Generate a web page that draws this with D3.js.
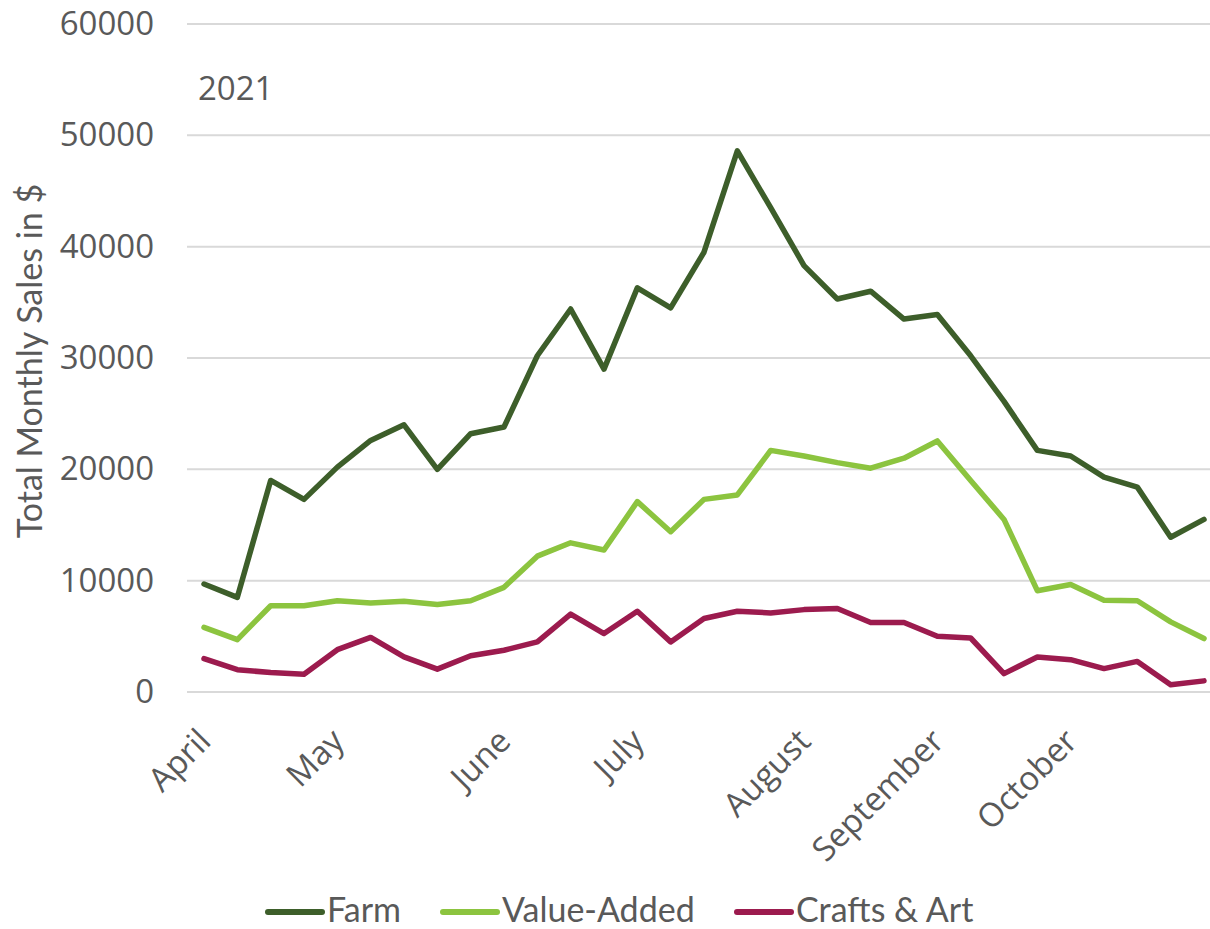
<!DOCTYPE html>
<html>
<head>
<meta charset="utf-8">
<script src="https://cdn.jsdelivr.net/npm/d3@7"></script>
<style>
  html, body { margin: 0; padding: 0; background: #ffffff; }
  svg { display: block; }
</style>
</head>
<body>
<svg id="chart" width="1210" height="929"></svg>
<script>
// Weekly categories; a month name marks the first week of each month
const weekLabels = [
  "April", "", "", "",
  "May", "", "", "", "",
  "June", "", "", "",
  "July", "", "", "", "",
  "August", "", "", "",
  "September", "", "", "",
  "October", "", "", "", ""
];

const farm = [9700, 8500, 19000, 17300, 20200, 22600, 24000, 20000, 23200, 23800,
  30200, 34400, 29000, 36300, 34500, 39500, 48600, 43500, 38300, 35300,
  36000, 33500, 33900, 30200, 26100, 21700, 21200, 19300, 18400, 13900, 15500];

const valueAdded = [5800, 4700, 7750, 7750, 8200, 8000, 8150, 7850, 8200, 9400,
  12200, 13400, 12750, 17100, 14400, 17300, 17700, 21700, 21200, 20600,
  20100, 21000, 22550, 19000, 15500, 9100, 9650, 8250, 8200, 6300, 4800];

const craftsArt = [3000, 2000, 1750, 1600, 3800, 4900, 3150, 2050, 3250, 3750,
  4500, 7000, 5250, 7250, 4500, 6600, 7250, 7100, 7400, 7500,
  6250, 6250, 5000, 4850, 1650, 3150, 2900, 2100, 2750, 650, 1000];

const seriesNames = ["Farm", "Value-Added", "Crafts & Art"];
const seriesColors = ["#3d5e2a", "#8cc43f", "#9c1b4e"];
const yTicks = [0, 10000, 20000, 30000, 40000, 50000, 60000];
const yearLabel = "2021";
const yTitle = "Total Monthly Sales in $";

const series = [farm, valueAdded, craftsArt].map((values, i) => ({
  name: seriesNames[i], color: seriesColors[i], values
}));

const svg = d3.select("#chart");
const textColor = "#595959";
const labelFont = "'Open Sans', sans-serif";
const titleFont = "Lato, 'Liberation Sans', sans-serif";

const x = d3.scalePoint()
  .domain(d3.range(weekLabels.length))
  .range([204, 1204]);

const y = d3.scaleLinear()
  .domain([0, 60000])
  .range([692, 24]);

// Horizontal gridlines
svg.append("g")
  .selectAll("line")
  .data(yTicks)
  .join("line")
  .attr("x1", 187)
  .attr("x2", 1222)
  .attr("y1", d => y(d))
  .attr("y2", d => y(d))
  .attr("stroke", "#d9d9d9")
  .attr("stroke-width", 2);

// Y axis labels
const yAxis = svg.append("g")
  .attr("transform", "translate(154,0)")
  .call(d3.axisLeft(y).tickValues(yTicks).tickSize(0).tickPadding(0).tickFormat(d3.format("d")));
yAxis.select(".domain").remove();
yAxis.selectAll("text")
  .attr("font-family", labelFont)
  .attr("font-size", 33)
  .attr("fill", textColor);

// X axis labels, rotated
const xAxis = svg.append("g")
  .attr("transform", "translate(0,735)")
  .call(d3.axisBottom(x).tickSize(0).tickFormat(i => weekLabels[i]));
xAxis.select(".domain").remove();
xAxis.selectAll("text")
  .attr("font-family", labelFont)
  .attr("font-size", 33)
  .attr("fill", textColor)
  .attr("text-anchor", "end")
  .attr("y", 0)
  .attr("dy", "0.35em")
  .attr("transform", "rotate(-45)");

// Y axis title
svg.append("text")
  .attr("transform", "translate(42,361) rotate(-90)")
  .attr("text-anchor", "middle")
  .attr("font-family", titleFont)
  .attr("font-size", 34)
  .attr("fill", textColor)
  .text(yTitle);

// Year label
svg.append("text")
  .attr("x", 198)
  .attr("y", 100)
  .attr("font-family", labelFont)
  .attr("font-size", 33)
  .attr("fill", textColor)
  .text(yearLabel);

// Series lines
const line = d3.line()
  .x((d, i) => x(i))
  .y(d => y(d));

svg.append("g")
  .selectAll("path")
  .data(series)
  .join("path")
  .attr("d", d => line(d.values))
  .attr("fill", "none")
  .attr("stroke", d => d.color)
  .attr("stroke-width", 5.5)
  .attr("stroke-linejoin", "round")
  .attr("stroke-linecap", "round");

// Legend
const legendX = [268, 443, 737];
const legend = svg.append("g")
  .selectAll("g")
  .data(series)
  .join("g")
  .attr("transform", (d, i) => `translate(${legendX[i]},912)`);

legend.append("line")
  .attr("x1", 0)
  .attr("x2", 54)
  .attr("stroke", d => d.color)
  .attr("stroke-width", 6)
  .attr("stroke-linecap", "round");

legend.append("text")
  .attr("x", 59)
  .attr("y", 10)
  .attr("font-family", titleFont)
  .attr("font-size", 34)
  .attr("fill", textColor)
  .text(d => d.name);
</script>
</body>
</html>
